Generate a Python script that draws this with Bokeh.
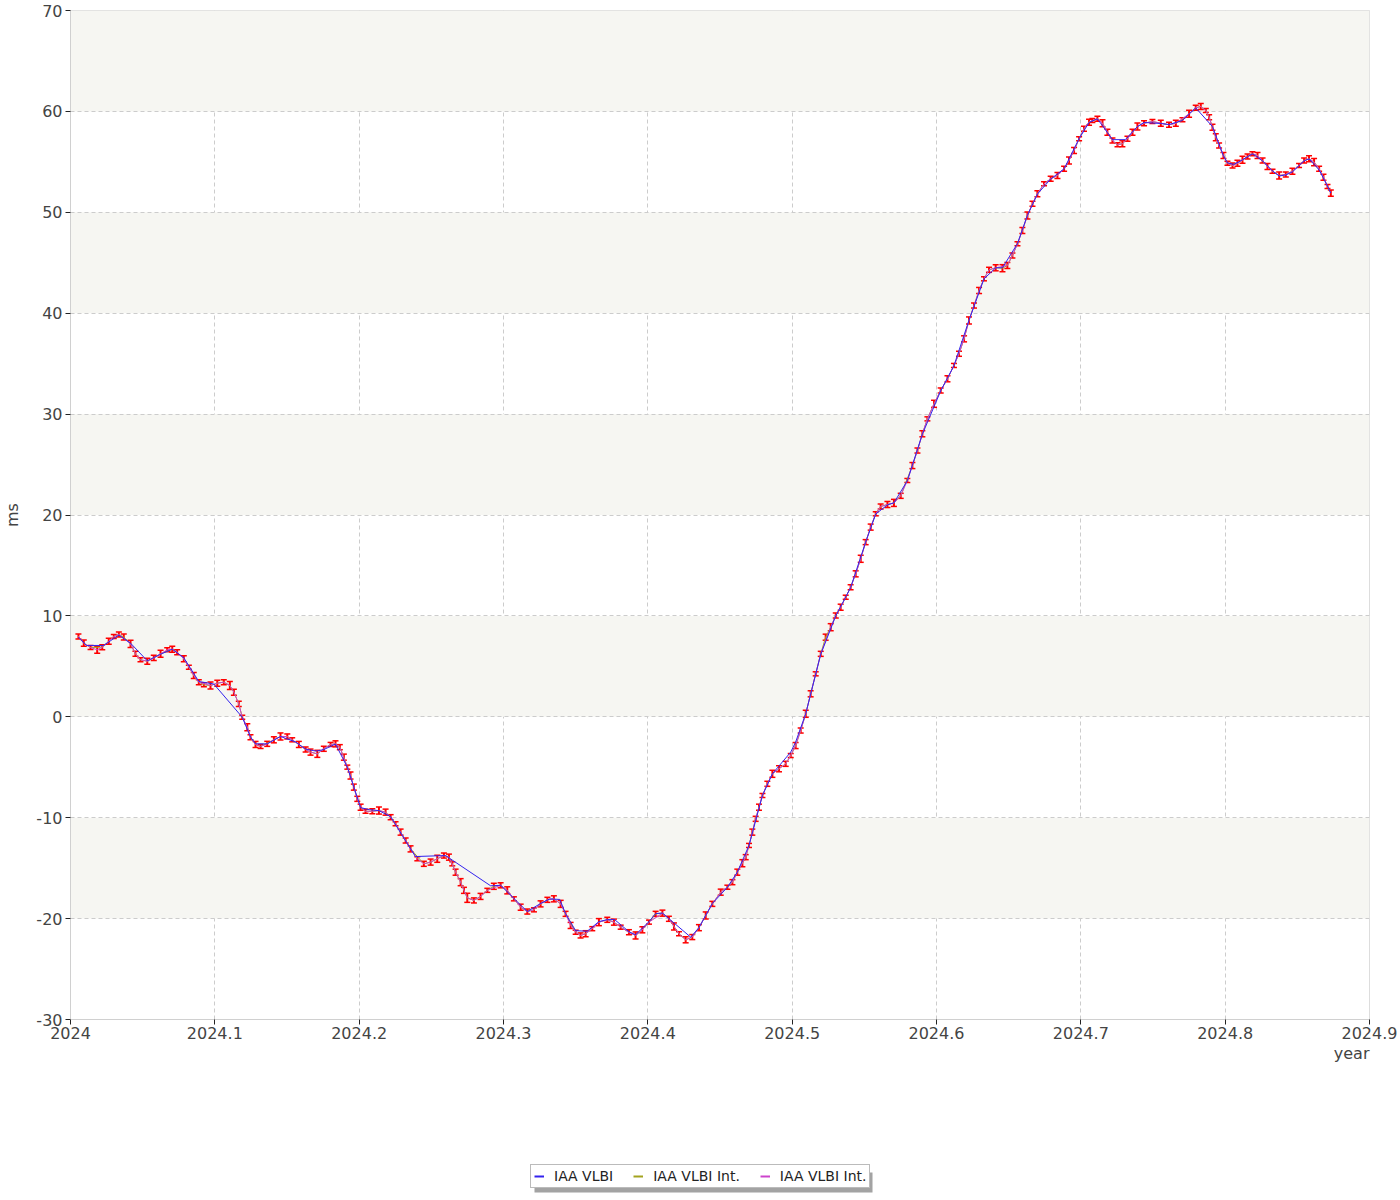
from bokeh.plotting import figure
from bokeh.layouts import column
from bokeh.models import (Range1d, FixedTicker, Whisker, TeeHead, ColumnDataSource,
                          Legend, LegendItem, Title, BoxAnnotation)
from bokeh.embed import file_html
from bokeh.resources import INLINE

# ---------------- data ----------------
x_ticks = [2024.0, 2024.1, 2024.2, 2024.3, 2024.4, 2024.5, 2024.6, 2024.7, 2024.8, 2024.9]
x_tick_labels = ["2024", "2024.1", "2024.2", "2024.3", "2024.4", "2024.5", "2024.6", "2024.7", "2024.8", "2024.9"]
y_ticks = [-30, -20, -10, 0, 10, 20, 30, 40, 50, 60, 70]
y_tick_labels = ["-30", "-20", "-10", "0", "10", "20", "30", "40", "50", "60", "70"]

series_names = ["IAA VLBI", "IAA VLBI Int.", "IAA VLBI Int."]

# IAA VLBI (24h sessions)
vlbi_year = [
    2024.0055, 2024.0110, 2024.0230, 2024.0335, 2024.0416, 2024.0532, 2024.0624, 2024.0705, 2024.0785, 2024.0889,
    2024.0993, 2024.1190, 2024.1247, 2024.1282, 2024.1363, 2024.1455, 2024.1560, 2024.1629, 2024.1700, 2024.1755,
    2024.1836, 2024.1918, 2024.2010, 2024.2070, 2024.2137, 2024.2218, 2024.2322, 2024.2390, 2024.2598, 2024.2911,
    2024.2980, 2024.3072, 2024.3165, 2024.3257, 2024.3320, 2024.3390, 2024.3430, 2024.3500, 2024.3580, 2024.3661,
    2024.3719, 2024.3770, 2024.3869, 2024.3915, 2024.4008, 2024.4054, 2024.4101, 2024.4146, 2024.4297, 2024.4354,
    2024.4447, 2024.4551, 2024.4620, 2024.4701, 2024.4794, 2024.4863, 2024.4990, 2024.5024, 2024.5094, 2024.5198,
    2024.5302, 2024.5405, 2024.5509, 2024.5579, 2024.5660, 2024.5705, 2024.5798, 2024.5902, 2024.6029, 2024.6121,
    2024.6225, 2024.6329, 2024.6410, 2024.6457, 2024.6561, 2024.6630, 2024.6699, 2024.6791, 2024.6884, 2024.6988,
    2024.7057, 2024.7115, 2024.7184, 2024.7219, 2024.7308, 2024.7392, 2024.7438, 2024.7554, 2024.7611, 2024.7704,
    2024.7796, 2024.7912, 2024.7988, 2024.8016, 2024.8060, 2024.8120, 2024.8189, 2024.8259, 2024.8328, 2024.8374,
    2024.8420, 2024.8466, 2024.8547, 2024.8581, 2024.8651, 2024.8709, 2024.8732,
]
vlbi_ms = [
    7.90, 7.07, 7.07, 8.10, 7.30, 5.55, 6.20, 6.70, 5.85, 3.50,
    3.25, -0.04, -2.00, -2.68, -2.68, -1.95, -2.50, -3.20, -3.40, -3.25,
    -2.70, -5.00, -9.00, -9.20, -9.30, -9.90, -12.30, -13.85, -13.75, -16.75,
    -16.70, -18.00, -19.30, -18.50, -18.05, -18.10, -19.50, -21.20, -21.25, -20.30,
    -20.10, -20.10, -21.30, -21.60, -20.30, -19.50, -19.45, -20.00, -21.84, -20.90,
    -18.50, -16.90, -15.40, -12.75, -7.80, -5.65, -3.50, -2.50, 0.30, 6.20,
    10.00, 12.80, 17.30, 20.10, 21.00, 21.20, 23.40, 28.00, 32.30, 34.80,
    39.30, 43.40, 44.50, 44.50, 46.90, 49.70, 51.80, 53.30, 54.30, 57.30,
    58.90, 59.27, 57.90, 57.20, 57.20, 58.50, 58.90, 58.80, 58.70, 59.10,
    60.35, 58.50, 55.60, 54.90, 54.75, 55.20, 55.80, 55.10, 54.10, 53.60,
    53.70, 54.00, 55.10, 55.30, 54.20, 52.60, 51.90,
]

# IAA VLBI Intensives
int_year = [
    2024.0055, 2024.0092, 2024.0139, 2024.0185, 2024.0220, 2024.0265, 2024.0300, 2024.0335, 2024.0369, 2024.0416,
    2024.0450, 2024.0485, 2024.0532, 2024.0577, 2024.0624, 2024.0670, 2024.0705, 2024.0739, 2024.0785, 2024.0820,
    2024.0854, 2024.0889, 2024.0924, 2024.0970, 2024.1017, 2024.1062, 2024.1104, 2024.1132, 2024.1166, 2024.1190,
    2024.1225, 2024.1247, 2024.1282, 2024.1317, 2024.1363, 2024.1409, 2024.1455, 2024.1502, 2024.1536, 2024.1582,
    2024.1629, 2024.1663, 2024.1710, 2024.1755, 2024.1802, 2024.1836, 2024.1866, 2024.1894, 2024.1918, 2024.1940,
    2024.1963, 2024.1987, 2024.2010, 2024.2044, 2024.2091, 2024.2137, 2024.2183, 2024.2218, 2024.2252, 2024.2287,
    2024.2322, 2024.2356, 2024.2403, 2024.2448, 2024.2495, 2024.2541, 2024.2587, 2024.2622, 2024.2645, 2024.2668,
    2024.2703, 2024.2726, 2024.2749, 2024.2795, 2024.2841, 2024.2888, 2024.2933, 2024.2980, 2024.3026, 2024.3072,
    2024.3119, 2024.3165, 2024.3211, 2024.3257, 2024.3304, 2024.3349, 2024.3396, 2024.3430, 2024.3465, 2024.3500,
    2024.3534, 2024.3569, 2024.3615, 2024.3661, 2024.3719, 2024.3765, 2024.3812, 2024.3869, 2024.3915, 2024.3962,
    2024.4008, 2024.4054, 2024.4101, 2024.4146, 2024.4181, 2024.4216, 2024.4262, 2024.4308, 2024.4354, 2024.4401,
    2024.4447, 2024.4505, 2024.4551, 2024.4586, 2024.4620, 2024.4655, 2024.4678, 2024.4701, 2024.4724, 2024.4747,
    2024.4770, 2024.4794, 2024.4828, 2024.4863, 2024.4909, 2024.4955, 2024.4990, 2024.5024, 2024.5059, 2024.5094,
    2024.5128, 2024.5163, 2024.5198, 2024.5232, 2024.5267, 2024.5302, 2024.5336, 2024.5371, 2024.5405, 2024.5440,
    2024.5475, 2024.5509, 2024.5544, 2024.5579, 2024.5613, 2024.5660, 2024.5705, 2024.5752, 2024.5798, 2024.5833,
    2024.5868, 2024.5902, 2024.5937, 2024.5983, 2024.6029, 2024.6076, 2024.6121, 2024.6156, 2024.6191, 2024.6225,
    2024.6260, 2024.6295, 2024.6329, 2024.6364, 2024.6410, 2024.6457, 2024.6491, 2024.6526, 2024.6561, 2024.6595,
    2024.6630, 2024.6665, 2024.6699, 2024.6745, 2024.6791, 2024.6838, 2024.6884, 2024.6918, 2024.6953, 2024.6988,
    2024.7022, 2024.7057, 2024.7080, 2024.7115, 2024.7150, 2024.7184, 2024.7219, 2024.7254, 2024.7288, 2024.7323,
    2024.7358, 2024.7392, 2024.7438, 2024.7496, 2024.7554, 2024.7611, 2024.7658, 2024.7704, 2024.7750, 2024.7796,
    2024.7831, 2024.7866, 2024.7889, 2024.7912, 2024.7935, 2024.7958, 2024.7988, 2024.8016, 2024.8051, 2024.8085,
    2024.8120, 2024.8155, 2024.8189, 2024.8224, 2024.8259, 2024.8293, 2024.8328, 2024.8374, 2024.8420, 2024.8466,
    2024.8512, 2024.8547, 2024.8581, 2024.8616, 2024.8651, 2024.8681, 2024.8709, 2024.8732,
]
int_ms = [
    7.96, 7.30, 6.87, 6.64, 6.90, 7.49, 7.96, 8.16, 7.90, 7.23,
    6.24, 5.65, 5.51, 5.84, 6.24, 6.64, 6.70, 6.40, 5.75, 4.92,
    4.10, 3.43, 3.17, 3.10, 3.33, 3.43, 3.10, 2.44, 1.28, -0.04,
    -1.03, -2.02, -2.74, -2.94, -2.68, -2.28, -1.95, -1.95, -2.28, -2.74,
    -3.24, -3.50, -3.67, -3.17, -2.74, -2.68, -3.01, -4.00, -4.99, -5.82,
    -6.97, -8.13, -8.96, -9.36, -9.36, -9.29, -9.45, -9.95, -10.60, -11.43,
    -12.26, -13.09, -14.07, -14.57, -14.40, -14.07, -13.75, -13.91, -14.57, -15.40,
    -16.39, -17.20, -17.94, -18.20, -17.80, -17.20, -16.80, -16.70, -17.20, -18.04,
    -18.87, -19.30, -19.13, -18.54, -18.14, -18.04, -18.54, -19.53, -20.68, -21.35,
    -21.67, -21.50, -21.00, -20.35, -20.12, -20.35, -20.85, -21.35, -21.67, -21.11,
    -20.35, -19.53, -19.46, -20.02, -20.78, -21.50, -22.10, -21.83, -20.90, -19.69,
    -18.54, -17.38, -16.89, -16.39, -15.40, -14.51, -13.91, -12.75, -11.43, -10.11,
    -8.96, -7.80, -6.64, -5.65, -5.15, -4.66, -3.84, -2.85, -1.36, 0.30,
    2.28, 4.26, 6.24, 7.89, 8.88, 10.04, 10.86, 11.85, 12.84, 14.17,
    15.66, 17.31, 18.80, 20.12, 20.84, 21.04, 21.20, 21.90, 23.42, 24.90,
    26.39, 28.05, 29.53, 31.02, 32.34, 33.50, 34.82, 35.98, 37.46, 39.28,
    40.76, 42.25, 43.41, 44.30, 44.50, 44.46, 44.73, 45.72, 46.88, 48.20,
    49.68, 50.84, 51.83, 52.82, 53.32, 53.65, 54.31, 55.13, 56.12, 57.28,
    58.28, 58.93, 59.10, 59.27, 58.83, 57.94, 57.12, 56.69, 56.79, 57.28,
    57.94, 58.50, 58.83, 59.00, 58.83, 58.67, 58.83, 59.17, 59.76, 60.36,
    60.49, 60.09, 59.43, 58.43, 57.44, 56.62, 55.63, 54.87, 54.64, 54.87,
    55.20, 55.53, 55.80, 55.63, 55.13, 54.54, 54.07, 53.65, 53.75, 54.07,
    54.64, 55.13, 55.30, 54.97, 54.31, 53.48, 52.56, 51.90,
]
int_err = [
    0.25, 0.30, 0.20, 0.35, 0.25, 0.30, 0.20, 0.25, 0.30, 0.35,
    0.25, 0.20, 0.30, 0.25, 0.35, 0.20, 0.30, 0.25, 0.30, 0.20,
    0.30, 0.25, 0.20, 0.35, 0.30, 0.25, 0.40, 0.30, 0.25, 0.20,
    0.35, 0.25, 0.30, 0.20, 0.25, 0.30, 0.35, 0.25, 0.20, 0.30,
    0.25, 0.30, 0.35, 0.25, 0.20, 0.30, 0.25, 0.30, 0.20, 0.35,
    0.30, 0.25, 0.30, 0.20, 0.25, 0.35, 0.30, 0.25, 0.20, 0.30,
    0.25, 0.30, 0.20, 0.25, 0.30, 0.35, 0.25, 0.30, 0.20, 0.30,
    0.35, 0.30, 0.45, 0.25, 0.30, 0.20, 0.30, 0.25, 0.35, 0.20,
    0.30, 0.25, 0.20, 0.30, 0.25, 0.30, 0.35, 0.25, 0.30, 0.20,
    0.25, 0.30, 0.20, 0.35, 0.25, 0.30, 0.20, 0.25, 0.35, 0.30,
    0.20, 0.25, 0.30, 0.25, 0.35, 0.20, 0.30, 0.25, 0.30, 0.35,
    0.25, 0.30, 0.20, 0.25, 0.30, 0.35, 0.25, 0.20, 0.30, 0.25,
    0.30, 0.20, 0.25, 0.35, 0.30, 0.25, 0.20, 0.30, 0.25, 0.35,
    0.30, 0.20, 0.25, 0.30, 0.35, 0.25, 0.30, 0.20, 0.25, 0.30,
    0.35, 0.25, 0.30, 0.20, 0.25, 0.30, 0.35, 0.25, 0.20, 0.30,
    0.25, 0.30, 0.20, 0.35, 0.25, 0.30, 0.20, 0.25, 0.30, 0.35,
    0.25, 0.30, 0.20, 0.25, 0.30, 0.35, 0.30, 0.25, 0.20, 0.30,
    0.35, 0.25, 0.30, 0.20, 0.25, 0.30, 0.25, 0.35, 0.30, 0.20,
    0.25, 0.30, 0.20, 0.25, 0.35, 0.30, 0.25, 0.20, 0.30, 0.25,
    0.30, 0.35, 0.25, 0.20, 0.30, 0.25, 0.30, 0.20, 0.35, 0.25,
    0.30, 0.20, 0.25, 0.30, 0.35, 0.25, 0.30, 0.20, 0.25, 0.30,
    0.35, 0.25, 0.20, 0.30, 0.25, 0.30, 0.20, 0.35, 0.25, 0.30,
    0.20, 0.25, 0.30, 0.35, 0.25, 0.30, 0.20, 0.30,
]
# which intensive solution reports each point: B = both, M = magenta only, O = olive only
int_kind = (
    "BBBMBBBBOB" "BBBBBMBBBB" "BBOBBBBBBB" "BBBBMBBBBB" "BBBBBBBOBB"
    "BBBBBBBBBB" "BBMBBBBBBB" "BBBBBBOBBB" "BBBBBBBBMB" "BBBBBBBBBB"
    "BOBBBBBBBB" "BBBBBMBBBB" "BBBBBBBBBB" "BBBOBBBBBB" "BBBBBBBBMB"
    "BBBBBBBBBB" "BBBBBOBBBB" "BBBBBBBBBB" "BBMBBBBBBB" "BBBBBBBOBB"
    "BBBBBBBBBB" "BBBBMBBBBB" "BBBBBBBB"
)

FONT = "DejaVu Sans"
TXT = "#444444"
OLIVE, MAGENTA, BLUE, RED = "#a3a31f", "#cc44cc", "#3322ee", "#ff0000"

# ---------------- main figure ----------------
p = figure(width=1400, height=1150,
           x_range=Range1d(2024.0, 2024.9), y_range=Range1d(-30, 70),
           output_backend="svg", toolbar_location=None,
           min_border_left=70, min_border_right=31, min_border_top=10, min_border_bottom=131,
           background_fill_color="white", border_fill_color="white")
p.outline_line_color = "#dddddd"

# grid
p.xgrid.ticker = FixedTicker(ticks=x_ticks)
p.ygrid.ticker = FixedTicker(ticks=y_ticks)
for g in (p.xgrid, p.ygrid):
    g.grid_line_color = "#cccccc"
    g.grid_line_dash = "4 3"
    g.grid_line_width = 1
p.ygrid.band_fill_color = "#f6f6f2"
p.ygrid.band_fill_alpha = 1.0

# axes
p.xaxis.ticker = FixedTicker(ticks=x_ticks)
p.xaxis.major_label_overrides = dict(zip(x_ticks, x_tick_labels))
p.yaxis.ticker = FixedTicker(ticks=y_ticks)
p.yaxis.major_label_overrides = dict(zip(y_ticks, y_tick_labels))
for ax in (p.xaxis, p.yaxis):
    ax.axis_line_color = "#d0d0d0"
    ax.major_tick_line_color = "#222222"
    ax.major_tick_out = 5
    ax.major_tick_in = 0
    ax.minor_tick_line_color = None
    ax.major_label_text_font = FONT
    ax.major_label_text_font_size = "16px"
    ax.major_label_text_color = TXT
p.xaxis.major_label_standoff = 2
p.yaxis.major_label_standoff = 3
p.yaxis.axis_label = "ms"
p.yaxis.axis_label_text_font = FONT
p.yaxis.axis_label_text_font_size = "16px"
p.yaxis.axis_label_text_font_style = "normal"
p.yaxis.axis_label_text_color = TXT
p.yaxis.axis_label_standoff = 11

p.add_layout(Title(text="year", align="right", offset=0, standoff=0,
                   text_font=FONT, text_font_size="16px", text_font_style="normal",
                   text_color=TXT), "below")

# series
n = min(len(int_year), len(int_ms), len(int_err), len(int_kind))
m_x = [int_year[i] for i in range(n) if int_kind[i] in "BM"]
m_y = [int_ms[i] for i in range(n) if int_kind[i] in "BM"]
o_x = [int_year[i] for i in range(n) if int_kind[i] in "BO"]
o_y = [int_ms[i] for i in range(n) if int_kind[i] in "BO"]

p.line(o_x, o_y, line_color=OLIVE, line_width=1)
p.line(m_x, m_y, line_color=MAGENTA, line_width=1)
p.line(vlbi_year, vlbi_ms, line_color=BLUE, line_width=1)

err_src = ColumnDataSource(data=dict(
    x=int_year[:n],
    upper=[int_ms[i] + int_err[i] for i in range(n)],
    lower=[int_ms[i] - int_err[i] for i in range(n)],
))
p.add_layout(Whisker(source=err_src, base="x", upper="upper", lower="lower", dimension="height",
                     line_color=RED, line_width=2,
                     upper_head=TeeHead(size=6, line_color=RED, line_width=1.5),
                     lower_head=TeeHead(size=6, line_color=RED, line_width=1.5)))

# ---------------- legend strip (frame aligned with the main plot) ----------------
q = figure(width=1400, height=45, x_range=Range1d(0, 1), y_range=Range1d(0, 1),
           output_backend="svg", toolbar_location=None,
           x_axis_type=None, y_axis_type=None,
           min_border_left=0, min_border_right=0, min_border_top=0, min_border_bottom=0,
           background_fill_color="white", border_fill_color="white")
q.grid.visible = False
q.outline_line_color = None
nan = float("nan")
lb = q.line([nan], [nan], line_color=BLUE, line_width=2)
lo = q.line([nan], [nan], line_color=OLIVE, line_width=2)
lm = q.line([nan], [nan], line_color=MAGENTA, line_width=2)
q.add_layout(BoxAnnotation(left=534, right=872, top=22, bottom=42,
                           left_units="canvas", right_units="canvas",
                           top_units="canvas", bottom_units="canvas",
                           fill_color="#666666", fill_alpha=0.6, line_color=None))
q.add_layout(Legend(items=[LegendItem(label=series_names[0], renderers=[lb]),
                           LegendItem(label=series_names[1], renderers=[lo]),
                           LegendItem(label=series_names[2], renderers=[lm])],
                    location=(460, 7), orientation="horizontal",
                    label_text_font=FONT, label_text_font_size="14px", label_text_color="#222222",
                    glyph_width=10, glyph_height=14, label_height=14, label_standoff=10,
                    spacing=20, padding=3, margin=0,
                    border_line_color="#777777", border_line_width=1,
                    background_fill_color="white", background_fill_alpha=1.0))

layout = column(p, q, spacing=0)
open("out.html", "w").write(file_html(layout, INLINE))
